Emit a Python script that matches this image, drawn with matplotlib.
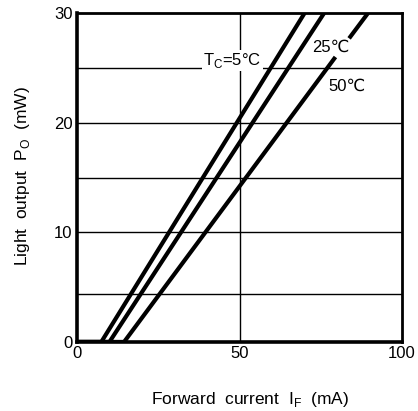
import matplotlib
matplotlib.use("Agg")
import matplotlib.pyplot as plt

# forward current (mA) vs light output (mW)
temps = ["5", "25", "50"]
current_5 = [0, 7.5, 70]
power_5 = [0, 0, 30]
current_25 = [0, 10, 76]
power_25 = [0, 0, 30]
# 50C curve is broken where the 25C label sits
current_50a = [0, 14.5, 79.5]
power_50a = [0, 0, 26]
current_50b = [83.7, 89.5]
power_50b = [27.7, 30]

h_grid = [4.4, 10, 15, 20, 25]
v_grid = [50]
x_ticks = [0, 50, 100]
y_ticks = [0, 10, 20, 30]

plt.rcParams['font.family'] = ['Liberation Sans', 'DejaVu Sans']

fig = plt.figure(figsize=(4.18, 4.11), dpi=100)
ax = fig.add_axes([0.184, 0.168, 0.778, 0.80])

for y in h_grid:
    ax.axhline(y, color="black", lw=1.0, zorder=1)
for x in v_grid:
    ax.axvline(x, color="black", lw=1.0, zorder=1)

kw = dict(color="black", lw=3.0, solid_capstyle="butt", zorder=3)
ax.plot(current_5, power_5, **kw)
ax.plot(current_25, power_25, **kw)
ax.plot(current_50a, power_50a, **kw)
ax.plot(current_50b, power_50b, **kw)

ax.set_xlim(0, 100)
ax.set_ylim(0, 30)
ax.set_xticks(x_ticks)
ax.set_yticks(y_ticks)
ax.tick_params(length=0, labelsize=12, pad=3)

for side in ["left", "bottom"]:
    ax.spines[side].set_linewidth(2.6)
for side in ["top", "right"]:
    ax.spines[side].set_linewidth(2.0)

ax.text(56.8, 25.25, r"T$_\mathregular{C}$=5°C", fontsize=12, ha="right", va="baseline",
        zorder=2, bbox=dict(facecolor="white", edgecolor="none", pad=0.8))
ax.text(78.2, 26.9, "25℃", fontsize=12, ha="center", va="center", zorder=2)
ax.text(83.0, 23.3, "50℃", fontsize=12, ha="center", va="center", zorder=2)

fig.text(0.598, 0.006, r"Forward  current  I$_\mathregular{F}$  (mA)", fontsize=12.5,
         ha="center", va="bottom")
fig.text(0.055, 0.572, r"Light  output  P$_\mathregular{O}$  (mW)", fontsize=12.5,
         ha="center", va="center", rotation=90)

fig.savefig("out.png", dpi=100)
